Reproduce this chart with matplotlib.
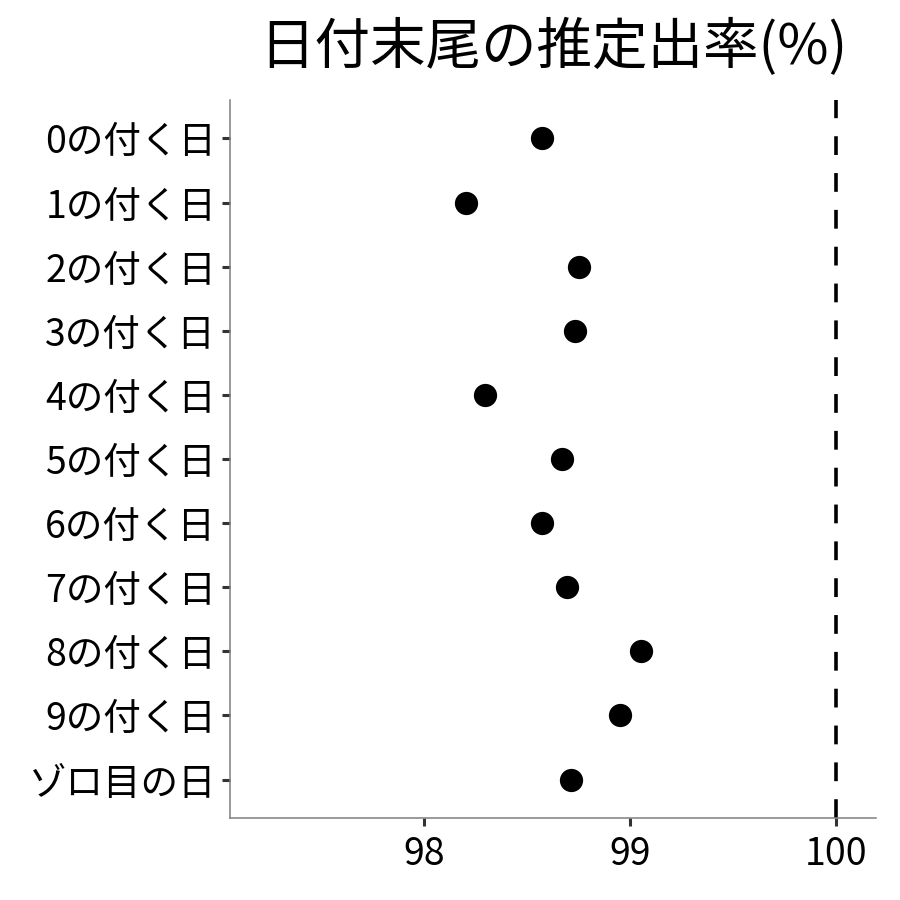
import numpy as np
import matplotlib
matplotlib.use('Agg')
import matplotlib.pyplot as plt

plt.rcParams['font.family'] = ['Noto Sans CJK JP', 'DejaVu Sans']

# data
labels = ['0の付く日', '1の付く日', '2の付く日', '3の付く日', '4の付く日',
          '5の付く日', '6の付く日', '7の付く日', '8の付く日', '9の付く日',
          'ゾロ目の日']
rates = [98.573, 98.204, 98.752, 98.733, 98.296, 98.670,
         98.573, 98.694, 99.053, 98.951, 98.714]
ref_line = 100
xticks = [98, 99, 100]

fig = plt.figure(figsize=(9, 9), dpi=100)
ax = fig.add_axes([0.2556, 0.0911, 0.7178, 0.7978])

ypos = np.arange(len(labels))
ax.scatter(rates, ypos, s=280, color='black', zorder=3, linewidths=0)
ax.axvline(ref_line, color='black', linewidth=2.6, dashes=(5.2, 5.0), zorder=2)

ax.set_ylim(len(labels) - 1 + 0.6, -0.6)
ax.set_xlim(97.058, 100.194)
ax.set_yticks(ypos)
ax.set_yticklabels(labels)
ax.set_xticks(xticks)
ax.set_xticklabels([str(v) for v in xticks])

for side in ['top', 'right']:
    ax.spines[side].set_visible(False)
for side in ['left', 'bottom']:
    ax.spines[side].set_color('#7f7f7f')
    ax.spines[side].set_linewidth(1.1)

ax.tick_params(axis='both', colors='#333333', length=6, width=2.2,
               labelsize=27, labelcolor='black', pad=4)
ax.tick_params(axis='x', pad=6)

ax.set_title('日付末尾の推定出率(%)', fontsize=40, pad=26)

fig.savefig('out.png', dpi=100)
